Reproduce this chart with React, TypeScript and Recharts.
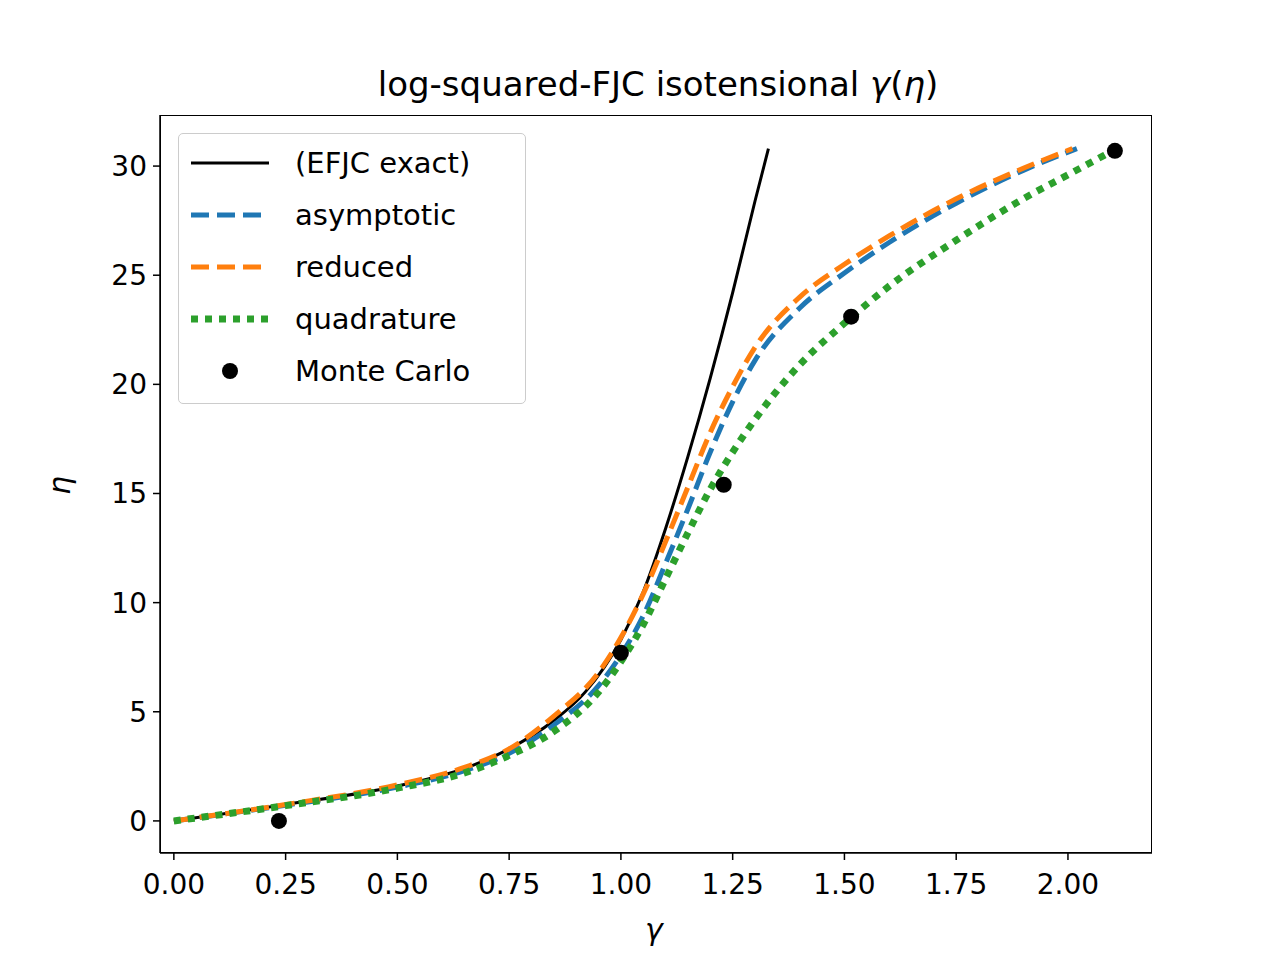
import { ComposedChart, Line, Scatter, XAxis, YAxis } from "recharts";

const exact = [
  { g: 0.0, e: 0.0 }, { g: 0.25, e: 0.75 }, { g: 0.5, e: 1.6 }, { g: 0.65, e: 2.4 },
  { g: 0.75, e: 3.3 }, { g: 0.85, e: 4.6 }, { g: 0.92, e: 5.9 }, { g: 1.0, e: 8.3 },
  { g: 1.05, e: 10.5 }, { g: 1.1, e: 13.4 }, { g: 1.15, e: 16.7 }, { g: 1.2, e: 20.3 },
  { g: 1.25, e: 24.2 }, { g: 1.3, e: 28.4 }, { g: 1.33, e: 30.8 },
];
const asymptotic = [
  { g: 0.0, e: 0.0 }, { g: 0.25, e: 0.72 }, { g: 0.5, e: 1.55 }, { g: 0.65, e: 2.3 },
  { g: 0.75, e: 3.1 }, { g: 0.85, e: 4.4 }, { g: 0.95, e: 6.2 }, { g: 1.0, e: 7.6 },
  { g: 1.05, e: 9.4 }, { g: 1.1, e: 11.8 }, { g: 1.15, e: 14.3 }, { g: 1.2, e: 16.9 },
  { g: 1.25, e: 19.2 }, { g: 1.3, e: 21.1 }, { g: 1.4, e: 23.5 }, { g: 1.5, e: 25.1 },
  { g: 1.6, e: 26.5 }, { g: 1.75, e: 28.3 }, { g: 1.9, e: 29.8 }, { g: 2.02, e: 30.8 },
];
const reduced = [
  { g: 0.0, e: 0.0 }, { g: 0.25, e: 0.75 }, { g: 0.5, e: 1.65 }, { g: 0.65, e: 2.45 },
  { g: 0.75, e: 3.3 }, { g: 0.85, e: 4.8 }, { g: 0.95, e: 6.8 }, { g: 1.0, e: 8.4 },
  { g: 1.05, e: 10.4 }, { g: 1.1, e: 12.8 }, { g: 1.15, e: 15.3 }, { g: 1.2, e: 17.8 },
  { g: 1.25, e: 19.9 }, { g: 1.3, e: 21.7 }, { g: 1.4, e: 24.0 }, { g: 1.5, e: 25.5 },
  { g: 1.6, e: 26.8 }, { g: 1.75, e: 28.5 }, { g: 1.9, e: 29.9 }, { g: 2.01, e: 30.8 },
];
const quadrature = [
  { g: 0.0, e: 0.0 }, { g: 0.25, e: 0.7 }, { g: 0.5, e: 1.5 }, { g: 0.65, e: 2.2 },
  { g: 0.75, e: 3.0 }, { g: 0.85, e: 4.1 }, { g: 0.95, e: 5.9 }, { g: 1.0, e: 7.3 },
  { g: 1.05, e: 9.0 }, { g: 1.1, e: 11.1 }, { g: 1.15, e: 13.2 }, { g: 1.2, e: 15.2 },
  { g: 1.25, e: 16.9 }, { g: 1.3, e: 18.4 }, { g: 1.4, e: 20.9 }, { g: 1.5, e: 22.8 },
  { g: 1.6, e: 24.5 }, { g: 1.75, e: 26.6 }, { g: 1.9, e: 28.5 }, { g: 2.0, e: 29.6 },
  { g: 2.1, e: 30.7 },
];
const monteCarlo = [
  { g: 0.235, e: 0.0 }, { g: 1.0, e: 7.7 }, { g: 1.23, e: 15.4 },
  { g: 1.515, e: 23.1 }, { g: 2.105, e: 30.7 },
];
const xTicks = [0, 0.25, 0.5, 0.75, 1.0, 1.25, 1.5, 1.75, 2.0];
const yTicks = [0, 5, 10, 15, 20, 25, 30];

const font = "DejaVu Sans";
const tick = { fontSize: 28, fill: "#000", fontFamily: font };

const legendItems = [
  { label: "(EFJC exact)", color: "#000", dash: "none", w: 3 },
  { label: "asymptotic", color: "#1f77b4", dash: "18 8", w: 5 },
  { label: "reduced", color: "#ff7f0e", dash: "18 8", w: 5 },
  { label: "quadrature", color: "#2ca02c", dash: "7 7", w: 7 },
];

export default function App() {
  return (
    <div style={{ position: "absolute", left: 0, top: 0, width: 1280, height: 960, background: "#fff", fontFamily: font }}>
      <div style={{ position: "absolute", top: 64, width: 1316, textAlign: "center", fontSize: 34 }}>
        log-squared-FJC isotensional <i>γ</i>(<i>η</i>)
      </div>
      <ComposedChart width={1280} height={960} margin={{ left: 100, right: 128, top: 115, bottom: 67 }}>
        <XAxis type="number" dataKey="g" domain={[-0.031, 2.188]} ticks={xTicks} allowDataOverflow
          tickFormatter={(v: number) => v.toFixed(2)} tick={{ ...tick, dy: 12 }} height={40}
          stroke="#000" strokeWidth={1.5} tickSize={7} />
        <YAxis type="number" dataKey="e" domain={[-1.47, 32.34]} ticks={yTicks} allowDataOverflow
          tick={{ ...tick, dx: -4 }} width={60} stroke="#000" strokeWidth={1.5} tickSize={7} />
        <Line data={exact} dataKey="e" type="monotone" stroke="#000" strokeWidth={3} dot={false} isAnimationActive={false} />
        <Line data={asymptotic} dataKey="e" type="monotone" stroke="#1f77b4" strokeWidth={5} strokeDasharray="18 8" dot={false} isAnimationActive={false} />
        <Line data={reduced} dataKey="e" type="monotone" stroke="#ff7f0e" strokeWidth={5} strokeDasharray="18 8" dot={false} isAnimationActive={false} />
        <Line data={quadrature} dataKey="e" type="monotone" stroke="#2ca02c" strokeWidth={7} strokeDasharray="7 7" dot={false} isAnimationActive={false} />
        <Scatter data={monteCarlo} dataKey="e" fill="#000" isAnimationActive={false}
          shape={(p: any) => <circle cx={p.cx} cy={p.cy} r={8} fill="#000" />} />
      </ComposedChart>
      <div style={{ position: "absolute", left: 160, top: 115, width: 992, height: 738, border: "1.5px solid #000", boxSizing: "border-box", pointerEvents: "none" }} />
      <div style={{ position: "absolute", left: 178, top: 133, width: 348, height: 271, border: "1.5px solid #ccc", borderRadius: 5, background: "rgba(255,255,255,0.8)", boxSizing: "border-box" }}>
        <svg width={348} height={271} style={{ position: "absolute", left: 0, top: 0 }}>
          {legendItems.map((it, i) => (
            <g key={it.label}>
              <line x1={12} x2={90} y1={29 + i * 52} y2={29 + i * 52} stroke={it.color} strokeWidth={it.w} strokeDasharray={it.dash} />
              <text x={116} y={39 + i * 52} fontSize={29} fontFamily={font}>{it.label}</text>
            </g>
          ))}
          <circle cx={51} cy={237} r={8} fill="#000" />
          <text x={116} y={247} fontSize={29} fontFamily={font}>Monte Carlo</text>
        </svg>
      </div>
      <div style={{ position: "absolute", left: 645, top: 912, fontSize: 30, fontStyle: "italic" }}>γ</div>
      <div style={{ position: "absolute", left: 50, top: 468, fontSize: 30, fontStyle: "italic", transform: "rotate(-90deg)" }}>η</div>
    </div>
  );
}
